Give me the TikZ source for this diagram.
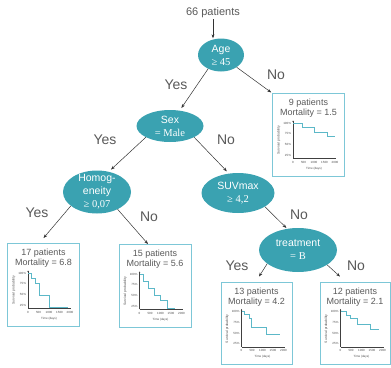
\documentclass[tikz,border=0pt]{standalone}
\usepackage{fontspec}
\setmainfont{Liberation Sans}
\newfontfamily\serifnum{Liberation Serif}
\usetikzlibrary{shapes.geometric,arrows.meta}

\definecolor{splitfill}{HTML}{3AA2B1}
\definecolor{boxline}{HTML}{7DC7D7}
\definecolor{kmline}{HTML}{5CB8C8}
\definecolor{txtgray}{HTML}{595959}

\tikzset{
  split/.style={ellipse, fill=splitfill, text=white, inner xsep=0pt, inner ysep=-2pt, align=center, font=\fontsize{10.5}{13}\selectfont},
  kmbox/.style={draw=boxline, line width=0.9pt, minimum width=72pt, minimum height=83pt, inner sep=0pt},
  boxtext/.style={text=txtgray, align=center, inner sep=0pt, anchor=north, font=\fontsize{9}{10}\selectfont},
  yn/.style={text=txtgray, inner sep=0pt, font=\fontsize{14}{14}\selectfont},
  arr/.style={draw=black!80, line width=0.5pt, -{Stealth[length=4pt,width=3pt]}},
  ticklab/.style={text=black!70, inner sep=0pt, font=\fontsize{3}{3}\selectfont},
  kmcurve/.style={draw=kmline, line width=0.8pt},
  axisline/.style={draw=black!75, line width=0.4pt},
}

% small survival plot inside a box node: #1 box name, #2 curve path
\newcommand{\survplot}[2]{%
  \begin{scope}[shift={(#1.north west)}]
    \begin{scope}[shift={(21,73)}, x=0.021pt, y=0.43pt]
      \draw[axisline, -{Stealth[length=1.5pt,width=1.5pt]}] (0,18) -- (0,106);
      \draw[axisline] (0,18) -- (2050,18);
      \draw[kmcurve] #2;
      \foreach \t in {0,500,1000,1500,2000}
        \node[ticklab] at (\t,9) {\t};
      \foreach \p in {25,50,75,100}
        \node[ticklab, anchor=east] at (-90,\p) {\p\%};
      \node[ticklab] at (1000,-6) {Time (days)};
      \node[ticklab, rotate=90, font=\fontsize{3.4}{3.4}\selectfont] at (-680,60) {Survival probability};
    \end{scope}
  \end{scope}}

\begin{document}
\begin{tikzpicture}[x=1pt, y=-1pt]
    \useasboundingbox (0,0) rectangle (391,367);

    % splits
    \node[text=txtgray, inner sep=1pt, font=\fontsize{11}{11}\selectfont] (top) at (213,13) {66 patients};
    \node[split, minimum width=46pt, minimum height=33pt] (age) at (221,55) {Age\\{\serifnum ≥ 45}};
    \node[split, minimum width=67pt, minimum height=32pt] (sex) at (170,126) {Sex\\{\serifnum = Male}};
    \node[split, minimum width=68pt, minimum height=43pt, inner ysep=-6pt] (homog) at (97,192) {Homog-\\eneity\\{\serifnum ≥ 0,07}};
    \node[split, minimum width=73pt, minimum height=40pt] (suv) at (238,193) {SUVmax\\{\serifnum ≥ 4,2}};
    \node[split, minimum width=78pt, minimum height=44pt] (treat) at (298,250) {treatment\\{\serifnum = B}};

    % leaves
    \node[kmbox] (b9) at (308.5,135) {};
    \node[kmbox] (b17) at (43.5,285) {};
    \node[kmbox] (b15) at (155,286) {};
    \node[kmbox, minimum width=71pt, minimum height=82pt] (b13) at (256.5,323) {};
    \node[kmbox, minimum width=70pt, minimum height=82pt] (b12) at (355,323) {};

    \node[boxtext] (t9) at ([yshift=-6pt]b9.north) {9 patients\\Mortality = 1.5};
    \node[boxtext] (t17) at ([yshift=-6pt]b17.north) {17 patients\\Mortality = 6.8};
    \node[boxtext] (t15) at ([yshift=-6pt]b15.north) {15 patients\\Mortality = 5.6};
    \node[boxtext] (t13) at ([yshift=-6pt]b13.north) {13 patients\\Mortality = 4.2};
    \node[boxtext] (t12) at ([yshift=-6pt]b12.north) {12 patients\\Mortality = 2.1};

    \survplot{b9}{(0,100) -| (440,91) -| (1030,79) -| (1620,69) -- (2000,69)}
    \survplot{b17}{(0,100) -| (180,88) -| (340,76) -| (540,47) -| (1030,21) -- (1920,21)}
    \survplot{b15}{(0,100) -| (160,82) -| (440,67) -| (730,51) -| (1010,38) -| (1330,21) -- (1710,21)}
    \survplot{b13}{(0,100) -| (120,94) -| (350,84) -| (460,62) -| (1200,47) -- (1850,47)}
    \survplot{b12}{(0,100) -| (265,91) -| (485,83) -| (825,69) -| (1410,58) -- (1810,58)}

    % connectors
    \draw[arr] (top.south) -- (top.south |- age.north);
    \draw[arr, shorten >=3pt] (age.227) -- (sex.58);
    \draw[arr, shorten >=1pt] (age.-38) -- (b9.north west);
    \draw[arr, shorten >=3pt] (sex.205) -- (homog.60);
    \draw[arr, shorten >=3pt] (sex.-25) -- (suv.115);
    \draw[arr] (homog.208) -- ([yshift=5pt]b17.north);
    \draw[arr] (homog.-40) -- ([xshift=-7pt]b15.north);
    \draw[arr, shorten >=1pt] (suv.-27) -- (treat.117);
    \draw[arr] (treat.204) -- ([xshift=2.5pt,yshift=5pt]b13.north);
    \draw[arr] (treat.-27) -- ([xshift=-15pt,yshift=5pt]b12.north);

    % branch labels
    \node[yn] (yes1) at (176,85) {Yes};
    \node[yn] (no1) at (276,75) {No};
    \node[yn] (yes2) at (105,140) {Yes};
    \node[yn] (no2) at (226,140) {No};
    \node[yn] (yes3) at (37,213) {Yes};
    \node[yn] (no3) at (149,217) {No};
    \node[yn] (no4) at (299,215) {No};
    \node[yn] (yes5) at (237,266) {Yes};
    \node[yn] (no5) at (356,266) {No};
\end{tikzpicture}
\end{document}
